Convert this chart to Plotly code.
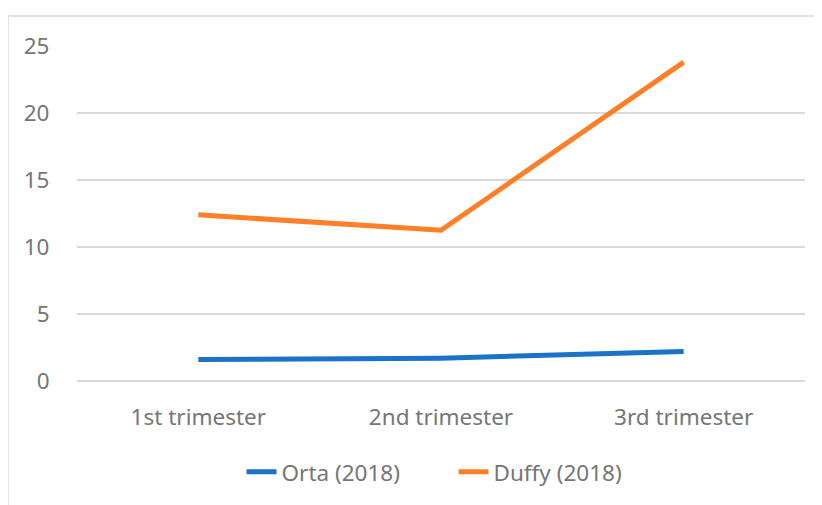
import plotly.graph_objects as go

categories = ["1st trimester", "2nd trimester", "3rd trimester"]
orta = [1.6, 1.7, 2.2]
duffy = [12.4, 11.25, 23.8]
series_names = ["Orta (2018)", "Duffy (2018)"]
y_ticks = [0, 5, 10, 15, 20, 25]

FONT = "Noto Sans"
GREY = "#767676"
GRID = "#d9d9d9"
FS = 22.5

fig = go.Figure()
fig.add_trace(go.Scatter(x=categories, y=orta, mode="lines", name=series_names[0],
                         line=dict(color="#1b72c9", width=5)))
fig.add_trace(go.Scatter(x=categories, y=duffy, mode="lines", name=series_names[1],
                         line=dict(color="#fe7f27", width=5)))

# the page body has an 8px margin, so the figure is laid out 8px in from the window edge
fig.update_layout(
    width=822, height=505,
    margin=dict(l=69, r=25, t=38, b=132),
    paper_bgcolor="white", plot_bgcolor="white",
    font=dict(family=FONT, size=FS, color=GREY),
    showlegend=True,
    legend=dict(orientation="h", x=0.226, xanchor="left", y=-0.272, yanchor="middle",
                font=dict(family=FONT, size=FS, color=GREY),
                entrywidth=167, entrywidthmode="pixels",
                traceorder="normal"),
    xaxis=dict(type="category", range=[-0.5, 2.5], showgrid=False, showline=False,
               zeroline=False, ticks="outside", ticklen=16, tickcolor="rgba(0,0,0,0)",
               tickfont=dict(family=FONT, size=FS, color=GREY)),
    yaxis=dict(range=[0, 25], tickvals=y_ticks, showgrid=True, gridcolor=GRID, gridwidth=1.5,
               zeroline=True, zerolinecolor=GRID, zerolinewidth=1.5, showline=False,
               ticks="outside", ticklen=22, tickcolor="rgba(0,0,0,0)",
               tickfont=dict(family=FONT, size=FS, color=GREY)),
    shapes=[dict(type="rect", xref="paper", yref="paper",
                 x0=-0.0948, x1=1.06, y0=-0.55, y1=1.0896,
                 line=dict(color=GRID, width=1.5), fillcolor="rgba(0,0,0,0)", layer="below")],
)

fig.write_html("out.html")
